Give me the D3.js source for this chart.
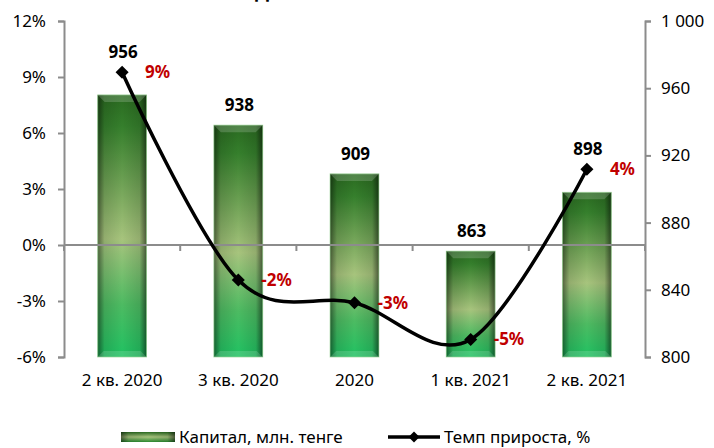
<!DOCTYPE html>
<meta charset="utf-8">
<script src="https://d3js.org/d3.v7.min.js"></script>
<style>
  body { margin: 0; background: #fff; }
  text { font-family: "Noto Sans", sans-serif; }
</style>
<div id="chart"></div>
<script>

// data
var categories = ["2 кв. 2020", "3 кв. 2020", "2020", "1 кв. 2021", "2 кв. 2021"];
var capital = [956, 938, 909, 863, 898];
var growth = [9.25, -1.88, -3.09, -5.06, 4.06];
var growthLabels = ["9%", "-2%", "-3%", "-5%", "4%"];
var leftTicks = [-6, -3, 0, 3, 6, 9, 12];
var rightTicks = [800, 840, 880, 920, 960, 1000];
var rightTickLabels = ["800", "840", "880", "920", "960", "1 000"];

var W = 714, H = 448;
var plot = {left: 64, right: 645, top: 21, bottom: 357};

var svg = d3.select("#chart").append("svg")
    .attr("width", W)
    .attr("height", H);

var defs = svg.append("defs");

var vg = defs.append("linearGradient").attr("id", "barV")
    .attr("x1", 0).attr("y1", 0).attr("x2", 0).attr("y2", 1);
[[0, "#2a6a20"], [0.12, "#357f2c"], [0.55, "#a7c47d"], [0.8, "#4dbb62"], [1, "#1fc262"]]
  .forEach(function(s) { vg.append("stop").attr("offset", s[0]).attr("stop-color", s[1]); });

var hg = defs.append("linearGradient").attr("id", "barH")
    .attr("x1", 0).attr("y1", 0).attr("x2", 1).attr("y2", 0);
[[0, 0.5], [0.14, 0.12], [0.5, 0], [0.86, 0.12], [1, 0.55]]
  .forEach(function(s) { hg.append("stop").attr("offset", s[0]).attr("stop-color", "#000").attr("stop-opacity", s[1]); });

// legend swatch gradient (lighter middle stripe)
var lg = defs.append("linearGradient").attr("id", "legV")
    .attr("x1", 0).attr("y1", 0).attr("x2", 0).attr("y2", 1);
[[0, "#2a6a20"], [0.5, "#a7c47d"], [1, "#2a8a30"]]
  .forEach(function(s) { lg.append("stop").attr("offset", s[0]).attr("stop-color", s[1]); });

var x = d3.scaleBand()
    .domain(categories)
    .range([plot.left, plot.right])
    .padding(0);

var yL = d3.scaleLinear().domain([-6, 12]).range([plot.bottom, plot.top]);
var yR = d3.scaleLinear().domain([800, 1000]).range([plot.bottom, plot.top]);

var barW = x.bandwidth() * 0.42;

// title, mostly cut off at the top edge
svg.append("text")
    .attr("x", 255)
    .attr("y", -1)
    .style("font-size", "18px")
    .style("font-weight", "bold")
    .text("Динамика капитала");

// bars
var bars = svg.append("g").selectAll("g")
  .data(capital)
  .enter().append("g");

bars.append("rect")
    .attr("x", function(d, i) { return x(categories[i]) + (x.bandwidth() - barW) / 2; })
    .attr("y", function(d) { return yR(d); })
    .attr("width", barW)
    .attr("height", function(d) { return yR(800) - yR(d); })
    .attr("fill", "url(#barV)");

bars.append("rect")
    .attr("x", function(d, i) { return x(categories[i]) + (x.bandwidth() - barW) / 2; })
    .attr("y", function(d) { return yR(d); })
    .attr("width", barW)
    .attr("height", function(d) { return yR(800) - yR(d); })
    .attr("fill", "url(#barH)")
    .attr("stroke", "#8fcf8a")
    .attr("stroke-opacity", 0.6)
    .attr("stroke-width", 1);

// top bevel
bars.append("path")
    .attr("d", function(d, i) {
      var x0 = x(categories[i]) + (x.bandwidth() - barW) / 2, t = yR(d), b = 7;
      return "M" + x0 + "," + t + "H" + (x0 + barW) + "L" + (x0 + barW - b) + "," + (t + b) +
             "H" + (x0 + b) + "Z";
    })
    .attr("fill", "#ffffff")
    .attr("fill-opacity", 0.18);

// bottom bevel
bars.append("path")
    .attr("d", function(d, i) {
      var x0 = x(categories[i]) + (x.bandwidth() - barW) / 2, bt = yR(800), b = 6;
      return "M" + x0 + "," + bt + "H" + (x0 + barW) + "L" + (x0 + barW - b) + "," + (bt - b) +
             "H" + (x0 + b) + "Z";
    })
    .attr("fill", "#ffffff")
    .attr("fill-opacity", 0.15);

// zero line with category boundary ticks
var axisColor = "#8c8c8c";
var zeroG = svg.append("g").attr("transform", "translate(0," + yL(0) + ")");
zeroG.append("line")
    .attr("x1", plot.left).attr("x2", plot.right)
    .attr("stroke", axisColor).attr("stroke-width", 2);
zeroG.selectAll(".bt")
  .data(categories.concat(["end"]))
  .enter().append("line")
    .attr("x1", function(d, i) { return plot.left + i * x.step(); })
    .attr("x2", function(d, i) { return plot.left + i * x.step(); })
    .attr("y1", 0).attr("y2", 6)
    .attr("stroke", axisColor).attr("stroke-width", 2);

// left axis
var gL = svg.append("g")
    .attr("transform", "translate(" + plot.left + ",0)")
    .call(d3.axisLeft(yL).tickValues(leftTicks).tickSize(6).tickPadding(12)
      .tickFormat(function(d) { return d + "%"; }));

// right axis
var gR = svg.append("g")
    .attr("transform", "translate(" + plot.right + ",0)")
    .call(d3.axisRight(yR).tickValues(rightTicks).tickSize(6).tickPadding(10)
      .tickFormat(function(d, i) { return rightTickLabels[i]; }));

[gL, gR].forEach(function(g) {
  g.select(".domain").attr("stroke", axisColor).attr("stroke-width", 2);
  g.selectAll(".tick line").attr("stroke", axisColor).attr("stroke-width", 2);
  g.selectAll(".tick text")
    .style("font-size", "17px")
    .style("font-family", "Noto Sans")
    .attr("fill", "#000");
});

// category labels along the bottom
var gX = svg.append("g")
    .attr("transform", "translate(0," + plot.bottom + ")")
    .call(d3.axisBottom(x).tickSize(0).tickPadding(17));
gX.select(".domain").remove();
gX.selectAll(".tick text")
    .style("font-size", "17px")
    .style("font-family", "Noto Sans")
    .attr("fill", "#000");

// growth line (excel-like smoothing)
var pts = growth.map(function(g, i) {
  return [x(categories[i]) + x.bandwidth() / 2, yL(g)];
});

svg.append("path")
    .datum(pts)
    .attr("d", d3.line().curve(d3.curveCardinal.tension(0)))
    .attr("fill", "none")
    .attr("stroke", "#000")
    .attr("stroke-width", 3.5);

svg.append("g").selectAll("path")
  .data(pts)
  .enter().append("path")
    .attr("d", d3.symbol().type(d3.symbolSquare).size(85))
    .attr("transform", function(d) { return "translate(" + d[0] + "," + d[1] + ") rotate(45)"; })
    .attr("fill", "#000");

// capital value labels, above whichever of bar top / marker is higher
svg.append("g").selectAll("text")
  .data(capital)
  .enter().append("text")
    .attr("x", function(d, i) { return x(categories[i]) + x.bandwidth() / 2 + 1; })
    .attr("y", function(d, i) { return Math.min(yR(d), yL(growth[i])) - 14; })
    .attr("text-anchor", "middle")
    .style("font-size", "17px")
    .style("font-weight", "bold")
    .text(function(d) { return d; });

// growth labels, red, right of the markers
svg.append("g").selectAll("text")
  .data(growthLabels)
  .enter().append("text")
    .attr("x", function(d, i) { return pts[i][0] + 23; })
    .attr("y", function(d, i) { return pts[i][1] + 6; })
    .attr("fill", "#c00000")
    .style("font-size", "17px")
    .style("font-weight", "bold")
    .text(function(d) { return d; });

// legend
var leg = svg.append("g");
leg.append("rect")
    .attr("x", 121).attr("y", 432)
    .attr("width", 54).attr("height", 10)
    .attr("fill", "url(#legV)");
leg.append("rect")
    .attr("x", 121).attr("y", 432)
    .attr("width", 54).attr("height", 10)
    .attr("fill", "url(#barH)");
leg.append("text")
    .attr("x", 179).attr("y", 443)
    .style("font-size", "17px")
    .text("Капитал, млн. тенге");

leg.append("line")
    .attr("x1", 388).attr("x2", 440)
    .attr("y1", 437).attr("y2", 437)
    .attr("stroke", "#000").attr("stroke-width", 3.5);
leg.append("path")
    .attr("d", d3.symbol().type(d3.symbolSquare).size(60))
    .attr("transform", "translate(414,437) rotate(45)")
    .attr("fill", "#000");
leg.append("text")
    .attr("x", 444).attr("y", 443)
    .style("font-size", "17px")
    .text("Темп прироста, %");

</script>
